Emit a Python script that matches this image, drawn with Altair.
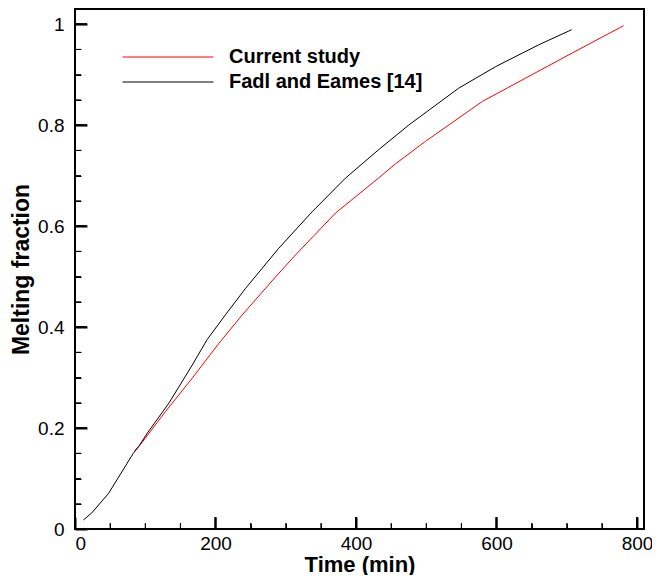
import altair as alt
import pandas as pd

series_names = ["Current study", "Fadl and Eames [14]"]
series_colors = ["#ff0000", "#000000"]

current_time = [85, 93, 129, 167, 205, 238, 284, 314, 371, 432, 456, 499, 580, 708, 781]
current_frac = [0.155, 0.167, 0.233, 0.299, 0.368, 0.424, 0.497, 0.543, 0.626, 0.695,
                0.723, 0.768, 0.847, 0.943, 0.997]

fadl_time = [12, 24, 48, 83, 91, 103, 134, 167, 188, 214, 243, 290, 338, 385, 432,
             475, 546, 599, 660, 707]
fadl_frac = [0.018, 0.032, 0.071, 0.150, 0.164, 0.190, 0.250, 0.325, 0.375, 0.424,
             0.477, 0.556, 0.629, 0.695, 0.751, 0.800, 0.873, 0.916, 0.959, 0.989]

x_major = [0, 200, 400, 600, 800]
x_minor = [0, 50, 100, 150, 200, 250, 300, 350, 400, 450, 500, 550, 600, 650, 700, 750, 800]
y_major = [0, 0.2, 0.4, 0.6, 0.8, 1.0]
y_minor = [0, 0.05, 0.1, 0.15, 0.2, 0.25, 0.3, 0.35, 0.4, 0.45, 0.5, 0.55, 0.6, 0.65,
           0.7, 0.75, 0.8, 0.85, 0.9, 0.95, 1.0]

df = pd.concat([
    pd.DataFrame({"time": current_time, "frac": current_frac, "series": series_names[0]}),
    pd.DataFrame({"time": fadl_time, "frac": fadl_frac, "series": series_names[1]}),
])

FONT = "Liberation Sans"
W, H = 569, 520
X_MIN, X_MAX = 0, 810
Y_MIN, Y_MAX = 0, 1.03
xs = alt.Scale(domain=[X_MIN, X_MAX], nice=False, zero=False)
ys = alt.Scale(domain=[Y_MIN, Y_MAX], nice=False, zero=False)

# tick lengths (12 px major, 6 px minor) expressed in data units
XU = (X_MAX - X_MIN) / W
YU = (Y_MAX - Y_MIN) / H

lines = alt.Chart(df).mark_line(strokeWidth=1).encode(
    x=alt.X("time:Q", scale=xs, axis=alt.Axis(
        orient="bottom", values=x_major, format="d", tickSize=0, domain=False, grid=False,
        labelFont=FONT, labelFontSize=19, labelPadding=5, labelColor="black",
        title="Time (min)", titleFont=FONT, titleFontSize=22, titleFontWeight="bold",
        titleColor="black", titlePadding=1)),
    y=alt.Y("frac:Q", scale=ys, axis=alt.Axis(
        orient="left", values=y_major, format="~g", tickSize=0, domain=False, grid=False,
        labelFont=FONT, labelFontSize=19, labelPadding=11, labelColor="black",
        title="Melting fraction", titleFont=FONT, titleFontSize=23, titleFontWeight="bold",
        titleColor="black", titlePadding=4)),
    color=alt.Color("series:N", scale=alt.Scale(domain=series_names, range=series_colors),
                    legend=alt.Legend(orient="none", legendX=82, legendY=37, title=None,
                                      symbolType="M-4.5,0H4.5", symbolSize=409,
                                      symbolStrokeWidth=1, symbolFillColor="transparent",
                                      labelFont=FONT, labelFontSize=20, labelFontWeight="bold",
                                      labelColor="black", labelOffset=50, rowPadding=4,
                                      labelLimit=400, padding=0)),
)

major = alt.Chart(df).mark_point(opacity=0).encode(
    x=alt.X("time:Q", scale=xs, axis=alt.Axis(
        orient="bottom", values=x_major, tickSize=12, offset=-12, tickWidth=2,
        tickColor="black", labels=False, domain=False, grid=False, title="", zindex=1)),
    y=alt.Y("frac:Q", scale=ys, axis=alt.Axis(
        orient="left", values=y_major, tickSize=12, offset=-12, tickWidth=2,
        tickColor="black", labels=False, domain=False, grid=False, title="", zindex=1)),
)

minor = alt.Chart(df).mark_point(opacity=0).encode(
    x=alt.X("time:Q", scale=xs, axis=alt.Axis(
        orient="bottom", values=x_minor, tickSize=6, offset=-6, tickWidth=1,
        tickColor="black", labels=False, domain=False, grid=False, title="", zindex=1)),
    y=alt.Y("frac:Q", scale=ys, axis=alt.Axis(
        orient="left", values=y_minor, tickSize=6, offset=-6, tickWidth=1,
        tickColor="black", labels=False, domain=False, grid=False, title="", zindex=1)),
)

def xrules(values, length_px, width):
    return alt.Chart(pd.DataFrame({"t": values})).mark_rule(
        color="black", strokeWidth=width
    ).encode(
        x=alt.X("t:Q", scale=xs, axis=None),
        y=alt.YDatum(Y_MIN, axis=None), y2=alt.Y2Datum(Y_MIN + length_px * YU),
    )

def yrules(values, length_px, width):
    return alt.Chart(pd.DataFrame({"t": values})).mark_rule(
        color="black", strokeWidth=width
    ).encode(
        y=alt.Y("t:Q", scale=ys, axis=None),
        x=alt.XDatum(X_MIN, axis=None), x2=alt.X2Datum(X_MIN + length_px * XU),
    )

frame = alt.Chart(pd.DataFrame({"box": [1]})).mark_rect(
    fillOpacity=0, stroke="black", strokeWidth=2
).encode(
    x=alt.XDatum(X_MIN, axis=None), x2=alt.X2Datum(X_MAX),
    y=alt.YDatum(Y_MIN, axis=None), y2=alt.Y2Datum(Y_MAX),
)

chart = alt.layer(
    frame, lines, major, minor,
    xrules(x_major, 12, 2), xrules(x_minor, 6, 1),
    yrules(y_major, 12, 2), yrules(y_minor, 6, 1),
).resolve_axis(
    x="independent", y="independent"
).properties(
    width=W, height=H,
    autosize=alt.AutoSizeParams(type="none"),
    padding={"left": 67, "top": 1, "right": 8, "bottom": 46},
).configure(background="white")

chart.save("out.html", embed_options={"renderer": "svg", "actions": False})
